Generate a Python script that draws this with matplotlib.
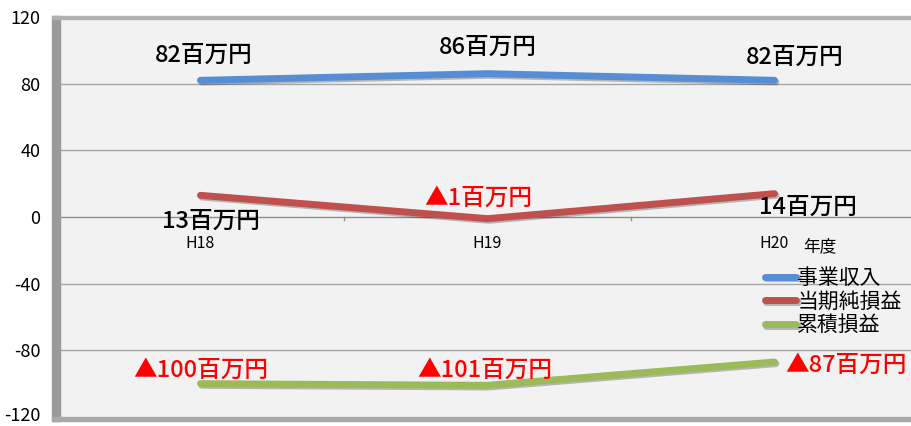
import matplotlib
matplotlib.use("Agg")
import matplotlib.pyplot as plt
import matplotlib.patheffects as pe
import matplotlib.transforms as mtransforms
from matplotlib.patches import Rectangle

plt.rcParams['font.family'] = ['Noto Sans CJK JP', 'DejaVu Sans']

# --- data ---
years = ["H18", "H19", "H20"]
revenue = [82, 86, 82]          # 事業収入
net_income = [13, -1, 14]       # 当期純損益
cumulative = [-100, -101, -87]  # 累積損益
series_names = ["事業収入", "当期純損益", "累積損益"]
revenue_labels = ["82百万円", "86百万円", "82百万円"]
net_labels = ["13百万円", "▲1百万円", "14百万円"]
cum_labels = ["▲100百万円", "▲101百万円", "▲87百万円"]
y_ticks = [-120, -80, -40, 0, 40, 80, 120]

colors = ["#558ed5", "#c0504d", "#9bbb59"]

W, H = 911, 426
fig = plt.figure(figsize=(W / 100, H / 100), dpi=100)
fig.patch.set_facecolor("white")

# plot area: x 57..918 px, y 17..417 px
ax = fig.add_axes([57 / W, 1 - 417 / H, (918 - 57) / W, 400 / H])
ax.set_facecolor("#f2f2f2")
ax.set_xlim(-0.5, 2.5)
ax.set_ylim(-120, 120)

# gridlines
for v in y_ticks:
    if v not in (-120, 120, 0):
        ax.axhline(v, color="#a6a6a6", lw=1.0, zorder=1)

# frame around plot area (shadowed look)
for s in ["top", "right", "left", "bottom"]:
    ax.spines[s].set_visible(False)
fig.patches.append(Rectangle((52 / W, 1 - 421 / H), 8 / W, 405 / H,
                             transform=fig.transFigure, color="#9a9a9a", zorder=0))
fig.patches.append(Rectangle((52 / W, 1 - 421 / H), 1, 4 / H,
                             transform=fig.transFigure, color="#a8a8a8", zorder=0))
fig.patches.append(Rectangle((52 / W, 1 - 19 / H), 1, 3 / H,
                             transform=fig.transFigure, color="#b0b0b0", zorder=0))

# category axis at y = 0
ax.axhline(0, color="#8c8c8c", lw=1.0, zorder=1)
ax.set_xticks(range(len(years)))
ax.set_xticklabels(years, fontsize=11.5)
ax.tick_params(axis="x", which="major", length=0, pad=0)
for xm in [0.5, 1.5]:
    ax.plot([xm, xm], [0, -1.8], color="#8c8c8c", lw=1.0, zorder=1)
for lab in ax.get_xticklabels():
    lab.set_transform(lab.get_transform() + mtransforms.ScaledTranslation(0, 1.82, fig.dpi_scale_trans))
ax.text(2.10, -18, "年度", fontsize=12, ha="left", va="center")

ax.set_yticks(y_ticks)
ax.set_yticklabels([str(v) for v in y_ticks], fontsize=13)
ax.tick_params(axis="y", length=0, pad=12)
# keep the bottom label inside the canvas
ax.get_yticklabels()[0].set_transform(
    ax.get_yticklabels()[0].get_transform() + mtransforms.ScaledTranslation(0, 0.03, fig.dpi_scale_trans))

# lines
shadow = [pe.SimpleLineShadow(offset=(1, -1.2), shadow_color="k", alpha=0.25),
          pe.Normal()]
x = range(len(years))
for vals, c, name in zip([revenue, net_income, cumulative], colors, series_names):
    ax.plot(x, vals, color=c, lw=5, solid_capstyle="round",
            solid_joinstyle="miter", label=name, zorder=3, path_effects=shadow)

# data labels
lab_kw = dict(fontsize=17, fontweight="medium", ha="center", va="center", zorder=4)
ax.text(0.01, 97, revenue_labels[0], color="black", **lab_kw)
ax.text(1, 102, revenue_labels[1], color="black", **lab_kw)
ax.text(2.07, 96, revenue_labels[2], color="black", **lab_kw)
ax.text(0.035, -2.5, net_labels[0], color="black", **lab_kw)
ax.text(0.967, 11, net_labels[1], color="red", **lab_kw)
ax.text(2.115, 6, net_labels[2], color="black", **lab_kw)
ax.text(0.0, -92, cum_labels[0], color="red", **lab_kw)
ax.text(0.99, -92, cum_labels[1], color="red", **lab_kw)
ax.text(2.25, -89, cum_labels[2], color="red", **lab_kw)

ax.legend(loc="upper left", bbox_to_anchor=(765 / W, 1 - 267 / H),
          bbox_transform=fig.transFigure, frameon=False, fontsize=15,
          handlelength=1.5, handletextpad=0.05, labelspacing=0.08,
          borderpad=0, borderaxespad=0)

fig.savefig("out.png", dpi=100)
